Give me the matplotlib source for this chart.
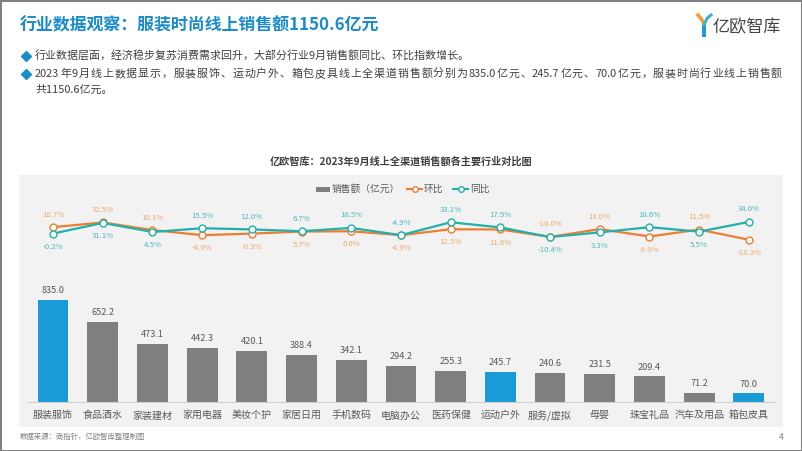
import matplotlib
matplotlib.use("Agg")
import matplotlib.pyplot as plt
from matplotlib.patches import Rectangle
from matplotlib.lines import Line2D
import numpy as np
import re

plt.rcParams["font.family"] = ["Noto Sans CJK SC", "DejaVu Sans"]

# ---------------------------------------------------------------------------
# Data
# ---------------------------------------------------------------------------
categories = ["服装服饰", "食品酒水", "家装建材", "家用电器", "美妆个护", "家居日用",
              "手机数码", "电脑办公", "医药保健", "运动户外", "服务/虚拟", "母婴",
              "珠宝礼品", "汽车及用品", "箱包皮具"]
sales = [835.0, 652.2, 473.1, 442.3, 420.1, 388.4, 342.1, 294.2,
         255.3, 245.7, 240.6, 231.5, 209.4, 71.2, 70.0]
mom = [18.7, 32.5, 10.1, -4.9, -0.3, 5.7, 6.6, -4.9,
       12.5, 11.8, -10.0, 13.0, -8.9, 11.5, -18.3]      # 环比 (%)
yoy = [-0.2, 31.1, 4.5, 15.5, 12.0, 6.7, 16.5, -4.9,
       33.1, 17.9, -10.4, 3.3, 18.6, 5.5, 34.0]          # 同比 (%)
highlight = ["服装服饰", "运动户外", "箱包皮具"]

# ---------------------------------------------------------------------------
# Style
# ---------------------------------------------------------------------------
W, H = 802, 451
BLUE = "#1a9bd7"
TITLE_BLUE = "#1a8ccc"
GRAY_BAR = "#7f7f7f"
ORANGE = "#ed7d31"
TEAL = "#22b0a8"
ORANGE_LBL = "#f0a868"
TEAL_LBL = "#4ab8c0"
TEXT = "#404040"


def fx(x):
    return x / W


def fy(y):
    return 1 - y / H


def justified_text(fig, x0, x1, y, txt, **kw):
    """Draw txt between pixel x0 and x1, spreading CJK chars / number runs evenly."""
    tokens = re.findall(r"[0-9A-Za-z.]+|.", txt)
    items = [fig.text(0, fy(y), tok, va="center", **kw) for tok in tokens]
    renderer = fig.canvas.get_renderer()
    widths = [t.get_window_extent(renderer).width for t in items]
    extra = (x1 - x0 - sum(widths)) / (len(items) - 1)
    pos = x0
    for t, w in zip(items, widths):
        t.set_x(fx(pos))
        pos += w + extra


fig = plt.figure(figsize=(W / 100, H / 100), dpi=100)
fig.patch.set_facecolor("white")

# slide frame
fig.add_artist(Rectangle((0, 0), 1, 1, transform=fig.transFigure, fill=False,
                         edgecolor="#808080", lw=2.2))

# chart panel
fig.add_artist(Rectangle((fx(19), fy(427)), fx(783) - fx(19), fy(175) - fy(427),
                         transform=fig.transFigure, facecolor="#f2f2f2",
                         edgecolor="none", zorder=0))

# title
fig.text(fx(20), fy(25), "行业数据观察：服装时尚线上销售额1150.6亿元",
         fontsize=12.2, fontweight="bold", color=TITLE_BLUE, va="center")

# logo
fig.add_artist(Line2D([fx(704), fx(704)], [fy(37), fy(23)], transform=fig.transFigure,
                      color="#1a9bd7", lw=2.8, solid_capstyle="butt"))
fig.add_artist(Line2D([fx(698), fx(701), fx(704)], [fy(15), fy(18.5), fy(23.5)],
                      transform=fig.transFigure, color="#f0a040", lw=2.6))
fig.add_artist(Line2D([fx(711), fx(707), fx(704.5)], [fy(15), fy(18.5), fy(23.5)],
                      transform=fig.transFigure, color="#3bb0d8", lw=2.2))
fig.text(fx(712), fy(27), "亿欧智库", fontsize=12.3, color="#454545", va="center")

# bullets
bullet_lines = [
    "行业数据层面，经济稳步复苏消费需求回升，大部分行业9月销售额同比、环比指数增长。",
    "2023年9月线上数据显示，服装服饰、运动户外、箱包皮具线上全渠道销售额分别为835.0亿元、"
    "245.7亿元、70.0亿元，服装时尚行业线上销售额",
]
for y in (56, 74):
    fig.add_artist(Line2D([fx(26)], [fy(y)], transform=fig.transFigure, marker="D",
                          markersize=5, color=TITLE_BLUE, lw=0))
fig.text(fx(35), fy(56), bullet_lines[0], fontsize=7.9, color=TEXT, va="center")
justified_text(fig, 35, 782, 74, bullet_lines[1], fontsize=7.9, color=TEXT)
fig.text(fx(35), fy(90), "共1150.6亿元。", fontsize=7.9, color=TEXT, va="center")

# chart title
fig.text(fx(401), fy(162), "亿欧智库：2023年9月线上全渠道销售额各主要行业对比图",
         fontsize=7.3, fontweight="bold", color="#404040", ha="center", va="center")

# legend
fig.add_artist(Rectangle((fx(316), fy(191.5)), fx(330) - fx(316), fy(186.5) - fy(191.5),
                         transform=fig.transFigure, facecolor=GRAY_BAR, edgecolor="none"))
fig.text(fx(332), fy(189), "销售额（亿元）", fontsize=7, color="#595959", va="center")
for x0, col, lbl in [(407, ORANGE, "环比"), (453, TEAL, "同比")]:
    fig.add_artist(Line2D([fx(x0), fx(x0 + 15)], [fy(189), fy(189)], transform=fig.transFigure,
                          color=col, lw=1.5))
    fig.add_artist(Line2D([fx(x0 + 7.5)], [fy(189)], transform=fig.transFigure, marker="o",
                          markersize=4, markerfacecolor="white", markeredgecolor=col,
                          markeredgewidth=1, lw=0))
    fig.text(fx(x0 + 17), fy(189), lbl, fontsize=7, color="#595959", va="center")

# ---------------------------------------------------------------------------
# Bars
# ---------------------------------------------------------------------------
x = np.arange(len(categories))
ax = fig.add_axes([fx(28.2), fy(402), (773.7 - 28.2) / W, 262 / H])
ax.patch.set_alpha(0)
colors = [BLUE if c in highlight else GRAY_BAR for c in categories]
bars = ax.bar(x, sales, width=0.62, color=colors, zorder=2)
for rect, v in zip(bars, sales):
    ax.annotate(f"{v:.1f}", (rect.get_x() + rect.get_width() / 2, v),
                xytext=(0, 3.5), textcoords="offset points", ha="center", va="bottom",
                fontsize=6.6, color="#595959")
ax.set_xlim(-0.5, len(categories) - 0.5)
ax.set_ylim(0, 2145)
ax.set_xticks(x)
ax.set_xticklabels(categories, fontsize=7.2, color="#595959")
ax.tick_params(axis="x", length=0, pad=6)
ax.set_yticks([])
for s in ["top", "right", "left"]:
    ax.spines[s].set_visible(False)
ax.spines["bottom"].set_color("#d0d0d0")
ax.spines["bottom"].set_linewidth(0.8)

# ---------------------------------------------------------------------------
# Lines
# ---------------------------------------------------------------------------
ax2 = ax.twinx()
ax2.patch.set_alpha(0)
ax2.set_ylim(-495.6, 275)
ax2.axis("off")
ax2.plot(x, mom, color=ORANGE, lw=1.6, marker="o", markersize=5,
         markerfacecolor="white", markeredgecolor=ORANGE, markeredgewidth=1, zorder=3)
ax2.plot(x, yoy, color=TEAL, lw=1.6, marker="o", markersize=5,
         markerfacecolor="white", markeredgecolor=TEAL, markeredgewidth=1, zorder=4)
for i, (m, t) in enumerate(zip(mom, yoy)):
    m_up = m > t
    ax2.annotate(f"{m:.1f}%", (i, m), xytext=(0, 9 if m_up else -9.5),
                 textcoords="offset points", ha="center", va="center",
                 fontsize=5.6, color=ORANGE_LBL)
    ax2.annotate(f"{t:.1f}%", (i, t), xytext=(0, -9.5 if m_up else 9),
                 textcoords="offset points", ha="center", va="center",
                 fontsize=5.6, color=TEAL_LBL)

# footer
fig.text(fx(20), fy(437), "数据来源：商指针，亿欧智库整理制图", fontsize=5.3,
         color="#7f7f7f", va="center")
fig.text(fx(781), fy(437), "4", fontsize=6, color="#7f7f7f", ha="center", va="center")

fig.savefig("out.png", dpi=100, facecolor="white")
plt.close(fig)
